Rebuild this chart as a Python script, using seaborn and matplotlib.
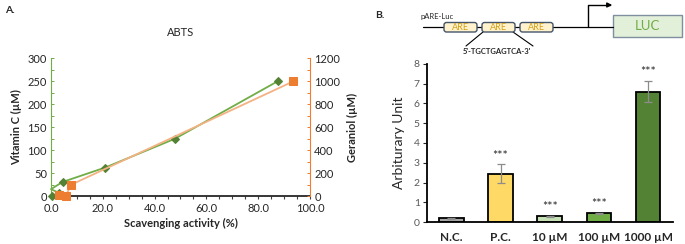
import numpy as np
import pandas as pd
import seaborn as sns
import matplotlib.pyplot as plt
from matplotlib.patches import FancyBboxPatch, Rectangle
from matplotlib.ticker import MultipleLocator

# ---- data ----
vitc_x = [87.5, 47.8, 20.9, 4.5, 0.0, 2.9, 0.3]
vitc_y = [250, 125, 62.5, 31.25, 15.6, 7.8, 0]
ger_x = [93.6, 7.7, 5.7, 2.9]
ger_y = [1000, 100, 1, 10]

groups = ['N.C.', 'P.C.', '10 µM', '100 µM', '1000 µM']
values = [0.18, 2.45, 0.30, 0.45, 6.60]
errors = [0.02, 0.48, 0.03, 0.02, 0.55]
stars = ['', '***', '***', '***', '***']
bar_colors = ['#A6A6A6', '#FFD966', '#C5E0B4', '#70AD47', '#548235']

sns.set_style('white')
plt.rcParams['font.family'] = ['Lato', 'DejaVu Sans']

fig = plt.figure(figsize=(6.85, 2.44), dpi=100)

# ---------- panel A ----------
ax = fig.add_axes([0.0745, 0.1955, 0.378, 0.5655])
ax2 = ax.twinx()
df_v = pd.DataFrame({'x': vitc_x, 'y': vitc_y})
df_g = pd.DataFrame({'x': ger_x, 'y': ger_y})
sns.lineplot(data=df_v, x='x', y='y', sort=False, ax=ax, color='#70AD47', lw=1.3,
             marker='D', markersize=4, markerfacecolor='#548235', markeredgecolor='#548235',
             markevery=[0, 1, 2, 3, 5, 6], clip_on=False, zorder=3)
sns.lineplot(data=df_g, x='x', y='y', sort=False, ax=ax2, color='#F4B183', lw=1.3,
             marker='s', markersize=5.5, markerfacecolor='#ED7D31', markeredgecolor='#ED7D31',
             clip_on=False, zorder=3)
ax.set_xlim(0, 100)
ax.set_ylim(0, 300)
ax2.set_ylim(0, 1200)
ax.xaxis.set_major_locator(MultipleLocator(20))
ax.xaxis.set_minor_locator(MultipleLocator(5))
ax.yaxis.set_major_locator(MultipleLocator(50))
ax.yaxis.set_minor_locator(MultipleLocator(25))
ax2.yaxis.set_major_locator(MultipleLocator(200))
ax2.yaxis.set_minor_locator(MultipleLocator(100))
ax.set_xticklabels([f'{v:.1f}' for v in ax.get_xticks()])
for a in (ax, ax2):
    a.spines['top'].set_visible(False)
ax.spines['left'].set_color('#70AD47')
ax.spines['right'].set_visible(False)
ax2.spines['left'].set_visible(False)
ax2.spines['bottom'].set_visible(False)
ax2.spines['right'].set_color('#ED7D31')
ax.spines['bottom'].set_color('#262626')
ax.spines['bottom'].set_linewidth(1.3)
ax.tick_params(axis='x', which='both', direction='out', length=2.5, width=0.8,
               color='#404040', labelsize=8, pad=2, bottom=True)
ax.tick_params(axis='y', which='both', direction='in', length=2.5, width=0.7,
               color='#70AD47', labelsize=8, pad=3, left=True)
ax2.tick_params(axis='y', which='both', direction='in', length=2.5, width=0.7,
                color='#ED7D31', labelsize=8, pad=3, right=True)
ax.set_xlabel('Scavenging activity (%)', fontsize=8, fontweight='bold', labelpad=3)
ax.set_ylabel('Vitamin C (µM)', fontsize=8, fontweight='bold', labelpad=4)
ax2.set_ylabel('Geraniol (µM)', fontsize=8, fontweight='bold', labelpad=5)
ax.set_title('ABTS', fontsize=8, pad=16)
fig.text(0.007, 0.945, 'A.', fontsize=7.5, fontweight='bold')

# ---------- panel B ----------
bx = fig.add_axes([0.623, 0.090, 0.359, 0.648])
df_b = pd.DataFrame({'group': groups, 'value': values})
sns.barplot(data=df_b, x='group', y='value', hue='group', palette=bar_colors,
            saturation=1, legend=False, width=0.5, edgecolor='black', linewidth=1.3,
            ax=bx, zorder=2)
bx.errorbar(range(len(groups)), values, yerr=errors, fmt='none', ecolor='#8C8C8C',
            elinewidth=0.9, capsize=3, capthick=0.9, zorder=3)
for i, (v, e, s) in enumerate(zip(values, errors, stars)):
    if s:
        bx.text(i, v + e + 0.12, s, ha='center', va='bottom', fontsize=9, color='#262626')
bx.set_ylim(0, 8)
bx.set_xlim(-0.5, 4.5)
bx.yaxis.set_major_locator(MultipleLocator(1))
for sp in ('top', 'right'):
    bx.spines[sp].set_visible(False)
for sp in ('left', 'bottom'):
    bx.spines[sp].set_color('black')
    bx.spines[sp].set_linewidth(1.3)
bx.tick_params(axis='y', direction='out', length=3, width=0.8, labelsize=7.5,
               labelcolor='#595959', left=True, pad=2)
bx.tick_params(axis='x', length=0, labelsize=8.5, pad=7)
for lab in bx.get_xticklabels():
    lab.set_fontweight('bold')
bx.set_xlabel('')
bx.set_ylabel('Arbiturary Unit', fontsize=10, labelpad=6)

# ---------- construct diagram (pixel coordinates) ----------
dx = fig.add_axes([0, 0, 1, 1], zorder=-1)
dx.set_xlim(0, 685)
dx.set_ylim(244, 0)
dx.axis('off')
fig.text(375 / 685, 1 - 18 / 244, 'B.', fontsize=7.5, fontweight='bold')
dx.text(421, 17, 'pARE-Luc', fontsize=5.5, ha='left', va='center', color='#262626')
dx.plot([423, 613], [27, 27], color='black', lw=0.9)
for x0, x1 in [(444, 477), (482, 515), (520, 553)]:
    dx.add_patch(FancyBboxPatch((x0, 22.5), x1 - x0, 9.5,
                                boxstyle='round,pad=0,rounding_size=2.5',
                                fc='#FFF2CC', ec='#44546A', lw=1.0, zorder=3))
    dx.text((x0 + x1) / 2, 27.5, 'ARE', ha='center', va='center', fontsize=6.5,
            color='#D4A017', zorder=4)
dx.plot([588, 588, 610], [27, 5, 5], color='black', lw=1.0)
dx.annotate('', xy=(615, 5), xytext=(605, 5),
            arrowprops=dict(arrowstyle='-|>', color='black', lw=1.0,
                            mutation_scale=7))
dx.add_patch(Rectangle((613, 15), 69, 22, fc='#E2F0D9', ec='#7F8F9F', lw=1.0))
dx.text(647.5, 26.5, 'LUC', ha='center', va='center', fontsize=9.5, color='#70AD47')
dx.plot([483, 466], [32, 46], color='black', lw=0.8)
dx.plot([513, 533], [32, 46], color='black', lw=0.8)
dx.text(497, 52, "5'-TGCTGAGTCA-3'", ha='center', va='center', fontsize=5.5,
        fontweight='bold', color='#262626')

plt.savefig('out.png', dpi=100)
